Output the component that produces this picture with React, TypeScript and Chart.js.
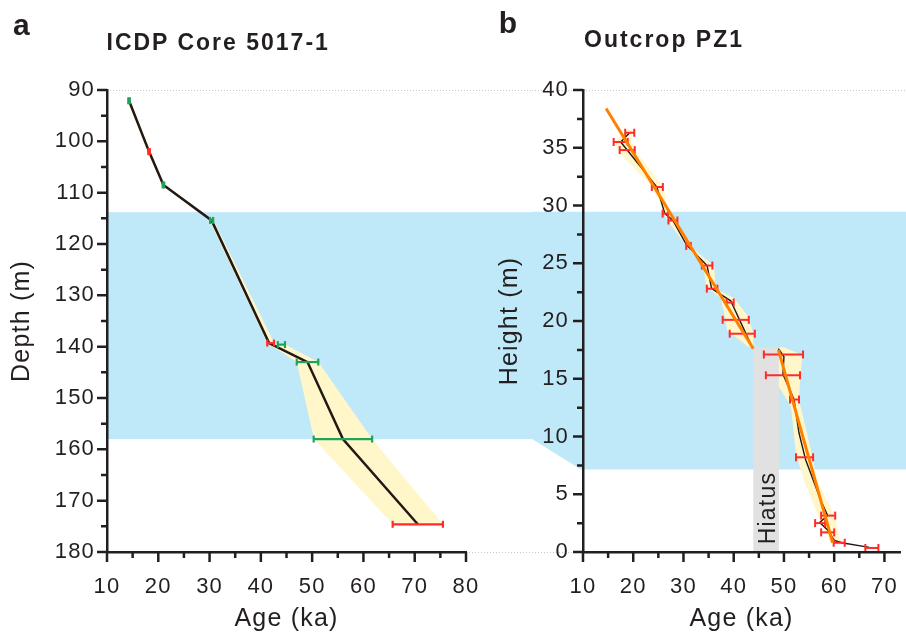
import React, { useEffect, useRef } from 'react';
import { Chart, registerables } from 'chart.js';

Chart.register(...registerables);

const FIG_W = 906;
const FIG_H = 634;
const LEFT_W = 532;
const RIGHT_X = 490;
const RIGHT_W = FIG_W - RIGHT_X;

const INK = '#231f20';
const LINE_INK = '#231815';
const RED = '#ff2b2b';
const GREEN = '#1fa35b';
const ORANGE = '#ff8000';
const BLUE = '#bfe9f9';
const YELLOW = '#fff7c9';
const GREY = '#e1e1e1';
const DOT = '#c9c9c9';
const FONT = "'Liberation Sans', Arial, sans-serif";

// ---------- Panel a : ICDP Core 5017-1 ----------
const coreAgeMajor = [10, 20, 30, 40, 50, 60, 70, 80];
const coreAgeMinor = [15, 25, 35, 45, 55, 65, 75];
const coreDepthMajor = [90, 100, 110, 120, 130, 140, 150, 160, 170, 180];
const coreDepthMinor = [95, 105, 115, 125, 135, 145, 155, 165, 175];
const coreBand = [113.8, 158.0];

const coreModelAge = [14.3, 18.2, 21.0, 30.4, 41.6, 49.1, 56.0, 70.6];
const coreModelDepth = [92.1, 102.0, 108.5, 115.4, 139.3, 143.0, 158.0, 174.6];

const coreEnvLowAge = [14.0, 17.9, 20.7, 30.0, 41.25, 47.0, 50.35, 65.7];
const coreEnvLowDepth = [92.1, 102.0, 108.5, 115.4, 139.3, 143.0, 158.0, 174.6];
const coreEnvHighAge = [14.6, 18.5, 21.3, 30.8, 42.6, 44.7, 51.2, 61.7, 75.5];
const coreEnvHighDepth = [92.1, 102.0, 108.5, 115.4, 139.3, 139.6, 143.0, 158.0, 174.6];

const coreDateAge = [14.3, 18.2, 21.0, 30.4, 41.9, 44.0, 49.1, 56.0, 70.6];
const coreDateErr = [0.15, 0.15, 0.15, 0.3, 0.65, 0.7, 2.1, 5.7, 4.9];
const coreDateDepth = [92.1, 102.0, 108.5, 115.4, 139.3, 139.6, 143.0, 158.0, 174.6];
const coreDateKind = ['g', 'r', 'g', 'g', 'r', 'g', 'g', 'g', 'r'];

// ---------- Panel b : Outcrop PZ1 ----------
const pzAgeMajor = [10, 20, 30, 40, 50, 60, 70];
const pzAgeMinor = [15, 25, 35, 45, 55, 65];
const pzHeightMajor = [0, 5, 10, 15, 20, 25, 30, 35, 40];
const pzHeightMinor = [2.5, 7.5, 12.5, 17.5, 22.5, 27.5, 32.5, 37.5];
const pzBand = [29.45, 7.15];
const pzHiatusAge = [43.9, 49.0];
const pzHiatusHeight = [0, 17.7];
const pzHiatusLabel = 'Hiatus';
const pzHiatusLabelAt = [46.9, 3.8];

const pzUpperModelAge = [19.3, 17.5, 18.8, 24.7, 26.3, 27.9, 30.6, 34.7, 35.6, 39.4, 43.6];
const pzUpperModelHeight = [36.3, 35.5, 34.8, 31.6, 29.3, 28.7, 26.6, 24.8, 22.8, 21.75, 17.8];
const pzLowerModelAge = [48.9, 50.0, 49.8, 52.0, 53.0, 54.3, 57.3, 58.7, 57.1, 58.7, 60.0, 61.5, 67.0];
const pzLowerModelHeight = [17.6, 16.9, 15.4, 13.2, 10.3, 8.0, 4.5, 3.15, 2.55, 1.9, 1.0, 0.8, 0.4];

const pzUpperEnvLowAge = [18.9, 16.4, 17.1, 23.4, 25.4, 26.0, 30.2, 33.5, 34.1, 34.5, 37.4, 38.0, 38.7, 42.9];
const pzUpperEnvLowHeight = [36.6, 35.6, 34.6, 31.8, 30.2, 29.2, 26.7, 25.0, 24.4, 23.0, 22.0, 20.9, 19.2, 17.76];
const pzUpperEnvHighAge = [19.8, 19.6, 20.6, 26.0, 26.7, 27.6, 31.5, 35.1, 36.1, 36.4, 40.0, 42.9, 43.9, 43.9];
const pzUpperEnvHighHeight = [36.5, 35.6, 34.6, 31.6, 30.2, 29.0, 26.4, 25.1, 24.7, 22.8, 22.0, 20.4, 18.9, 17.76];

const pzLowerEnvLowAge = [49.0, 49.0, 51.4, 52.4, 54.0, 56.9, 59.2, 60.5];
const pzLowerEnvLowHeight = [17.7, 14.3, 12.6, 8.5, 6.2, 3.0, 0.87, 0.75];
const pzLowerEnvHighAge = [50.1, 53.7, 53.2, 53.0, 55.6, 56.6, 60.2, 61.2, 62.0];
const pzLowerEnvHighHeight = [17.7, 17.05, 14.9, 13.15, 8.4, 6.2, 3.0, 1.0, 0.85];

const pzUpperTrendAge = [14.6, 43.9];
const pzUpperTrendHeight = [38.4, 17.6];
const pzLowerTrendAge = [48.9, 59.7];
const pzLowerTrendHeight = [17.5, 0.8];

const pzDateAge = [19.3, 17.5, 18.8, 24.8, 26.4, 27.9, 31.0, 34.7, 35.7, 39.3, 40.4, 41.7, 49.9, 49.8, 52.1, 54.1, 58.8, 57.2, 58.7, 61.0, 67.5];
const pzDateErr = [0.9, 1.4, 1.5, 1.1, 0.55, 0.9, 0.45, 1.05, 1.05, 0.7, 2.6, 2.5, 3.9, 3.4, 0.9, 1.7, 1.4, 1.0, 1.3, 1.1, 1.3];
const pzDateHeight = [36.3, 35.5, 34.8, 31.6, 29.3, 28.7, 26.5, 24.8, 22.8, 21.6, 20.1, 18.9, 17.1, 15.3, 13.2, 8.2, 3.15, 2.5, 1.7, 0.8, 0.35];

// ---------- helpers ----------
const pts = (xs: number[], ys: number[]) => xs.map((x, i) => ({ x, y: ys[i] }));
const polygon = (lx: number[], ly: number[], rx: number[], ry: number[]) => {
  const a = pts(lx, ly);
  const b = pts(rx, ry).reverse();
  return [...a, ...b, a[0]];
};

const areaSet = (data: any[], color: string, order: number) => ({
  data,
  showLine: true,
  fill: 'shape',
  backgroundColor: color,
  borderColor: 'rgba(0,0,0,0)',
  borderWidth: 0,
  pointRadius: 0,
  order,
});

const lineSet = (data: any[], color: string, width: number, order: number) => ({
  data,
  showLine: true,
  fill: false,
  borderColor: color,
  borderWidth: width,
  pointRadius: 0,
  order,
});

const errorSets = (
  ages: number[],
  errs: number[],
  ys: number[],
  colors: string[],
  width: number,
  cap: number,
  order: number,
) =>
  ages.map((a, i) => ({
    data: [
      { x: a - errs[i], y: ys[i] },
      { x: a + errs[i], y: ys[i] },
    ],
    showLine: true,
    fill: false,
    borderColor: colors[i],
    borderWidth: width,
    pointStyle: 'line',
    pointRotation: 90,
    pointRadius: cap,
    pointBorderColor: colors[i],
    pointBorderWidth: width,
    order,
  }));

const axis = (
  min: number,
  max: number,
  major: number[],
  minor: number[],
  title: string,
  titlePad: number,
  tickGap: number,
  reverse: boolean,
  horizontal: boolean,
  fit: number,
) => ({
  type: 'linear',
  min,
  max,
  reverse,
  grid: {
    display: true,
    drawOnChartArea: false,
    drawTicks: true,
    tickLength: tickGap,
    tickColor: 'rgba(0,0,0,0)',
    z: 1,
  },
  border: { display: true, color: INK, width: 2.5, z: 1 },
  afterBuildTicks: (s: any) => {
    s.ticks = [...major, ...minor].sort((p, q) => p - q).map((v) => ({ value: v }));
  },
  afterFit: (s: any) => {
    if (horizontal) s.height = fit;
    else s.width = fit;
    s.paddingLeft = 0;
    s.paddingRight = 0;
    s.paddingTop = 0;
    s.paddingBottom = 0;
  },
  ticks: {
    autoSkip: false,
    maxRotation: 0,
    minRotation: 0,
    padding: 2,
    z: 1,
    color: INK,
    font: { family: FONT, size: 22 },
    callback: (v: number) => (major.includes(v) ? String(v) : ''),
  },
  title: {
    display: true,
    text: title,
    color: INK,
    font: { family: FONT, size: 25 },
    padding: horizontal ? { top: 0, bottom: titlePad } : { top: titlePad, bottom: 0 },
  },
});

const spacing = {
  id: 'spacing',
  beforeLayout(chart: any) {
    chart.ctx.letterSpacing = '1.2px';
  },
  beforeDraw(chart: any) {
    chart.ctx.letterSpacing = '1.2px';
  },
};

const tickMarks = (xMajor: number[], xMinor: number[], yMajor: number[], yMinor: number[]) => ({
  id: 'tickMarks',
  afterDraw(chart: any) {
    const { ctx, chartArea: a, scales } = chart;
    const x = scales.x;
    const y = scales.y;
    ctx.save();
    ctx.strokeStyle = INK;
    ctx.lineWidth = 2.5;
    ctx.beginPath();
    const xt = (vals: number[], len: number) =>
      vals.forEach((v) => {
        const p = x.getPixelForValue(v);
        ctx.moveTo(p, a.bottom);
        ctx.lineTo(p, a.bottom + len);
      });
    const yt = (vals: number[], len: number) =>
      vals.forEach((v) => {
        const p = y.getPixelForValue(v);
        ctx.moveTo(a.left, p);
        ctx.lineTo(a.left - len, p);
      });
    xt(xMajor, 10);
    xt(xMinor, 6);
    yt(yMajor, 10);
    yt(yMinor, 6);
    ctx.stroke();
    ctx.restore();
  },
});

const baseOptions = (scales: any) => ({
  responsive: false,
  maintainAspectRatio: false,
  animation: false,
  events: [],
  scales,
  plugins: { legend: { display: false }, tooltip: { enabled: false } },
});

export default function App() {
  const leftRef = useRef<HTMLCanvasElement | null>(null);
  const rightRef = useRef<HTMLCanvasElement | null>(null);

  useEffect(() => {
    const shared = { leftBandBottom: 0 };

    const leftBand = {
      id: 'leftBand',
      beforeDatasetsDraw(chart: any) {
        const { ctx, chartArea: a, scales } = chart;
        const y = scales.y;
        const t = y.getPixelForValue(coreBand[0]);
        const b = y.getPixelForValue(coreBand[1]);
        ctx.save();
        ctx.fillStyle = BLUE;
        ctx.fillRect(a.left, t, chart.width - a.left, b - t);
        ctx.strokeStyle = DOT;
        ctx.lineWidth = 1;
        ctx.setLineDash([1, 2]);
        ctx.beginPath();
        ctx.moveTo(a.left + 3, a.top + 0.5);
        ctx.lineTo(chart.width, a.top + 0.5);
        ctx.moveTo(a.right + 3, a.bottom + 0.5);
        ctx.lineTo(chart.width, a.bottom + 0.5);
        ctx.stroke();
        ctx.restore();
      },
    };

    const left = new Chart(leftRef.current as HTMLCanvasElement, {
      type: 'scatter',
      data: {
        datasets: [
          areaSet(polygon(coreEnvLowAge, coreEnvLowDepth, coreEnvHighAge, coreEnvHighDepth), YELLOW, 5),
          lineSet(pts(coreModelAge, coreModelDepth), LINE_INK, 2.5, 3),
          ...errorSets(
            coreDateAge,
            coreDateErr,
            coreDateDepth,
            coreDateKind.map((k) => (k === 'r' ? RED : GREEN)),
            2.2,
            3.5,
            1,
          ),
        ],
      } as any,
      options: {
        ...baseOptions({
          x: axis(10, 80, coreAgeMajor, coreAgeMinor, 'Age (ka)', 0, 20, false, true, 82),
          y: axis(90, 180, coreDepthMajor, coreDepthMinor, 'Depth (m)', 7, 10, true, false, 107),
        }),
        layout: { padding: { top: 90, left: 0, right: LEFT_W - 466, bottom: 0 } },
      } as any,
      plugins: [spacing, leftBand, tickMarks(coreAgeMajor, coreAgeMinor, coreDepthMajor, coreDepthMinor)],
    });

    shared.leftBandBottom = left.scales.y.getPixelForValue(coreBand[1]);

    const rightBand = {
      id: 'rightBand',
      beforeDatasetsDraw(chart: any) {
        const { ctx, chartArea: a, scales } = chart;
        const y = scales.y;
        const t = y.getPixelForValue(pzBand[0]);
        const b = y.getPixelForValue(pzBand[1]);
        const gx = LEFT_W - RIGHT_X;
        ctx.save();
        ctx.fillStyle = BLUE;
        ctx.beginPath();
        ctx.moveTo(gx, t);
        ctx.lineTo(chart.width, t);
        ctx.lineTo(chart.width, b);
        ctx.lineTo(a.left - 2, b);
        ctx.lineTo(gx, shared.leftBandBottom);
        ctx.closePath();
        ctx.fill();
        ctx.strokeStyle = DOT;
        ctx.lineWidth = 1;
        ctx.setLineDash([1, 2]);
        ctx.beginPath();
        ctx.moveTo(gx, a.top + 0.5);
        ctx.lineTo(chart.width, a.top + 0.5);
        ctx.moveTo(gx, a.bottom + 0.5);
        ctx.lineTo(a.left - 3, a.bottom + 0.5);
        ctx.stroke();
        ctx.restore();
      },
    };

    const hiatusText = {
      id: 'hiatusText',
      afterDatasetsDraw(chart: any) {
        const { ctx, scales } = chart;
        const px = scales.x.getPixelForValue(pzHiatusLabelAt[0]);
        const py = scales.y.getPixelForValue(pzHiatusLabelAt[1]);
        ctx.save();
        ctx.translate(px, py);
        ctx.rotate(-Math.PI / 2);
        ctx.fillStyle = INK;
        ctx.font = `23px ${FONT}`;
        ctx.textAlign = 'center';
        ctx.textBaseline = 'middle';
        ctx.fillText(pzHiatusLabel, 0, 0);
        ctx.restore();
      },
    };

    const right = new Chart(rightRef.current as HTMLCanvasElement, {
      type: 'scatter',
      data: {
        datasets: [
          areaSet(
            pts(
              [pzHiatusAge[0], pzHiatusAge[1], pzHiatusAge[1], pzHiatusAge[0], pzHiatusAge[0]],
              [pzHiatusHeight[0], pzHiatusHeight[0], pzHiatusHeight[1], pzHiatusHeight[1], pzHiatusHeight[0]],
            ),
            GREY,
            6,
          ),
          areaSet(polygon(pzUpperEnvLowAge, pzUpperEnvLowHeight, pzUpperEnvHighAge, pzUpperEnvHighHeight), YELLOW, 5),
          areaSet(polygon(pzLowerEnvLowAge, pzLowerEnvLowHeight, pzLowerEnvHighAge, pzLowerEnvHighHeight), YELLOW, 5),
          lineSet(pts(pzUpperModelAge, pzUpperModelHeight), LINE_INK, 1.4, 3),
          lineSet(pts(pzLowerModelAge, pzLowerModelHeight), LINE_INK, 1.4, 3),
          ...errorSets(pzDateAge, pzDateErr, pzDateHeight, pzDateAge.map(() => RED), 2, 4, 2),
          lineSet(pts(pzUpperTrendAge, pzUpperTrendHeight), ORANGE, 3, 0),
          lineSet(pts(pzLowerTrendAge, pzLowerTrendHeight), ORANGE, 3, 0),
        ],
      } as any,
      options: {
        ...baseOptions({
          x: axis(10, 73.1, pzAgeMajor, pzAgeMinor, 'Age (ka)', 0, 20, false, true, 82),
          y: axis(0, 40, pzHeightMajor, pzHeightMinor, 'Height (m)', 5, 12, false, false, 93),
        }),
        layout: { padding: { top: 90, left: 0, right: 0, bottom: 0 } },
      } as any,
      plugins: [spacing, rightBand, hiatusText, tickMarks(pzAgeMajor, pzAgeMinor, pzHeightMajor, pzHeightMinor)],
    });

    return () => {
      left.destroy();
      right.destroy();
    };
  }, []);

  const label = (text: string, left: number, top: number, size: number, ls: number) => (
    <span
      style={{
        position: 'absolute',
        left,
        top,
        fontFamily: FONT,
        fontWeight: 'bold',
        fontSize: size,
        lineHeight: 1,
        letterSpacing: ls,
        color: INK,
        whiteSpace: 'nowrap',
      }}
    >
      {text}
    </span>
  );

  return (
    <div style={{ position: 'absolute', left: 0, top: 0, width: FIG_W, height: FIG_H, background: '#fff', overflow: 'hidden' }}>
      <canvas ref={leftRef} width={LEFT_W} height={FIG_H} style={{ position: 'absolute', left: 0, top: 0 }} />
      <canvas ref={rightRef} width={RIGHT_W} height={FIG_H} style={{ position: 'absolute', left: RIGHT_X, top: 0 }} />
      {label('a', 13, 9.6, 30, 0)}
      {label('ICDP Core 5017-1', 106.5, 30.5, 23, 2)}
      {label('b', 498.7, 8, 30, 0)}
      {label('Outcrop PZ1', 584, 27.5, 23, 2)}
    </div>
  );
}
